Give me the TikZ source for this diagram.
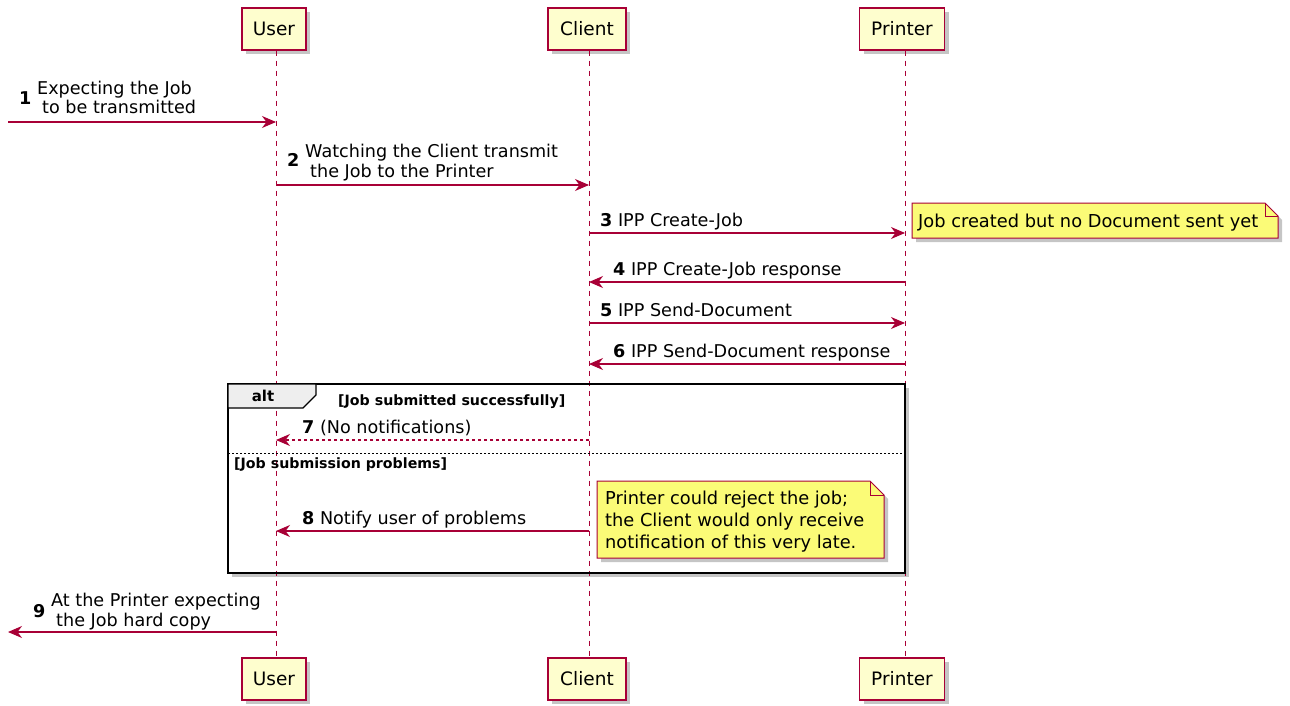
\documentclass[tikz,border=0pt]{standalone}
\usepackage{fontspec}
\setmainfont{DejaVu Sans}
\usetikzlibrary{arrows.meta,shadows}
\definecolor{pred}{HTML}{A80036}
\definecolor{pfill}{HTML}{FEFECE}
\definecolor{nfill}{HTML}{FBFB77}
\definecolor{tabfill}{HTML}{EEEEEE}
\tikzset{
  shad/.style={drop shadow={shadow xshift=4pt,shadow yshift=-4pt,fill=black!45,opacity=.5}},
  part/.style={draw=pred,fill=pfill,line width=1.3pt,minimum height=42pt,inner sep=0pt,
    font=\fontsize{18.5}{22}\selectfont,shad},
  lifeline/.style={draw=pred,line width=1pt,dash pattern=on 5pt off 5pt},
  msg/.style={draw=pred,line width=1.1pt,-{Stealth[length=14pt,width=12pt,inset=4.5pt]}},
  dmsg/.style={msg,dash pattern=on 3pt off 3pt},
  lbl/.style={font=\fontsize{17.6}{20}\selectfont,align=left,inner sep=0pt,anchor=base west},
  num/.style={font=\fontsize{17.6}{20}\selectfont\bfseries,inner sep=0pt,anchor=base west},
  guard/.style={font=\fontsize{14.2}{16}\selectfont\bfseries,inner sep=0pt,anchor=base west},
  notebox/.style={draw=pred,fill=nfill,line width=1pt,shad},
  notetxt/.style={font=\fontsize{17.8}{21.8}\selectfont,align=left,inner sep=0pt,anchor=base west},
}
\begin{document}
\begin{tikzpicture}[x=1pt,y=-1pt]
\useasboundingbox (0,0) rectangle (1290,706);
% alt frame
\fill[white,shad] (228,384) rectangle (905,573);
% participants
\node[part,minimum width=64pt] (uT) at (274,29) {User};
\node[part,minimum width=78pt] (cT) at (587,29) {Client};
\node[part,minimum width=85pt] (pT) at (902,29) {Printer};
\node[part,minimum width=64pt] (uB) at (274,679) {User};
\node[part,minimum width=78pt] (cB) at (587,679) {Client};
\node[part,minimum width=85pt] (pB) at (902,679) {Printer};
% lifelines
\draw[lifeline] (uT.south -| 276,0) -- (uB.north -| 276,0);
\draw[lifeline] (cT.south -| 589,0) -- (cB.north -| 589,0);
\draw[lifeline] (pT.south -| 905,0) -- (pB.north -| 905,0);
% frame border
\draw[black,line width=1.8pt] (228,384) rectangle (905,573);
\filldraw[fill=tabfill,draw=black,line width=1.3pt] (228,384) -- (316,384) -- (316,395) -- (303,408) -- (228,408) -- cycle;
\node[font=\fontsize{15}{18}\selectfont\bfseries,inner sep=0pt] (alt) at (263,396) {alt};
\node[guard] (g1) at (338,405) {[Job submitted successfully]};
\draw[black,line width=0.8pt,dash pattern=on 2pt off 2pt] (228,453) -- (905,453);
\node[guard] (g2) at (234,468) {[Job submission problems]};
% coordinates
\coordinate (L1) at (8,122);
\coordinate (U1) at (276,122);
\coordinate (U2) at (276,185);
\coordinate (C2) at (589,185);
\coordinate (C3) at (589,233);
\coordinate (P3) at (905,233);
\coordinate (P4) at (905,282);
\coordinate (C4) at (589,282);
\coordinate (C5) at (589,323);
\coordinate (P5) at (905,323);
\coordinate (P6) at (905,364);
\coordinate (C6) at (589,364);
\coordinate (C7) at (589,440);
\coordinate (U7) at (276,440);
\coordinate (C8) at (589,531);
\coordinate (U8) at (276,531);
\coordinate (U9) at (276,632);
\coordinate (L9) at (8,632);
% messages
\draw[msg] (L1) -- (U1);
\node[num] (n1) at (19,105) {1};
\node[lbl] (t1) at (37,114) {Expecting the Job\\\hspace*{5pt}to be transmitted};
\draw[msg] (U2) -- (C2);
\node[num] (n2) at (287,167) {2};
\node[lbl] (t2) at (305,177) {Watching the Client transmit\\\hspace*{5pt}the Job to the Printer};
\draw[msg] (C3) -- (P3);
\node[lbl] (t3) at (600,226) {\textbf{3} IPP Create-Job};
\draw[msg] (P4) -- (C4);
\node[lbl] (t4) at (613,275) {\textbf{4} IPP Create-Job response};
\draw[msg] (C5) -- (P5);
\node[lbl] (t5) at (600,316) {\textbf{5} IPP Send-Document};
\draw[msg] (P6) -- (C6);
\node[lbl] (t6) at (613,357) {\textbf{6} IPP Send-Document response};
\draw[dmsg] (C7) -- (U7);
\node[lbl] (t7) at (302,433) {\textbf{7} (No notifications)};
\draw[msg] (C8) -- (U8);
\node[lbl] (t8) at (302,524) {\textbf{8} Notify user of problems};
\draw[msg] (U9) -- (L9);
\node[num] (n9) at (33,617) {9};
\node[lbl] (t9) at (51,626) {At the Printer expecting\\\hspace*{5pt}the Job hard copy};
% notes
\path[notebox] (912,203) -- (1265,203) -- (1278,216) -- (1278,238) -- (912,238) -- cycle;
\draw[pred,line width=1pt] (1265,203) -- (1265,216) -- (1278,216);
\node[notetxt] (nt1) at (918,227) {Job created but no Document sent yet};
\path[notebox] (597,481) -- (870,481) -- (884,495) -- (884,558) -- (597,558) -- cycle;
\draw[pred,line width=1pt] (870,481) -- (870,495) -- (884,495);
\node[notetxt] (nt2) at (605,548) {Printer could reject the job;\\the Client would only receive\\notification of this very late.};
\end{tikzpicture}
\end{document}
